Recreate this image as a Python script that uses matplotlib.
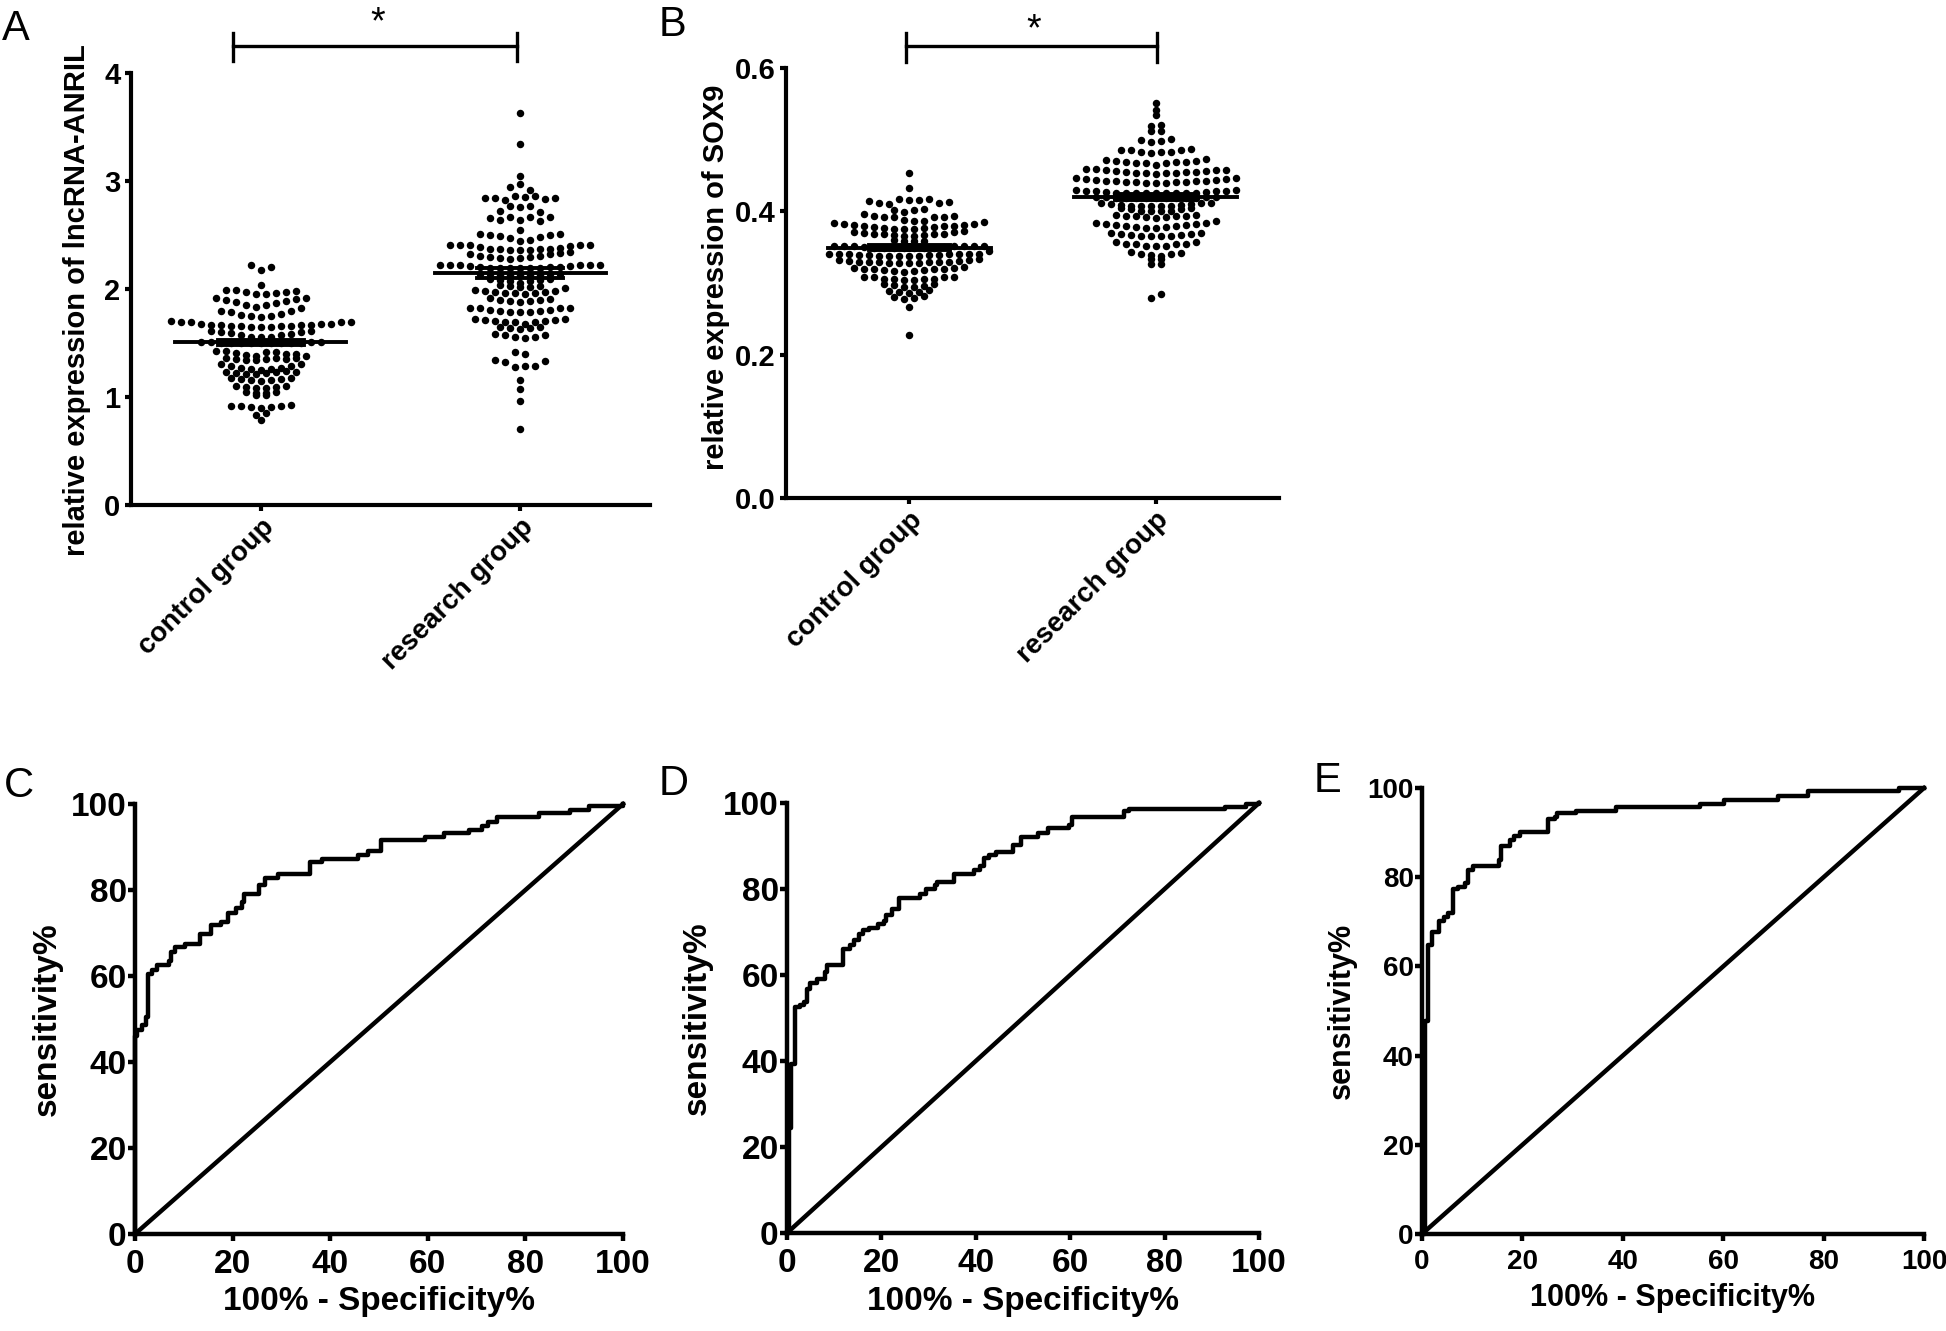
import matplotlib
matplotlib.use('Agg')
import matplotlib.pyplot as plt
import numpy as np

plt.rcParams['font.family'] = ['Liberation Sans', 'DejaVu Sans']

groups = ['control group', 'research group']

# panel A: lncRNA-ANRIL, one inner list per visual row of dots (left to right)
anril_control_rows = [
    [2.22, 2.18, 2.20],
    [2.04],
    [1.99, 1.99, 1.97, 1.95, 1.95, 1.96, 1.97, 1.98],
    [1.92, 1.90, 1.88, 1.85, 1.83, 1.85, 1.87, 1.89, 1.91, 1.92],
    [1.80, 1.79, 1.76, 1.75, 1.74, 1.75, 1.77, 1.80, 1.82],
    [1.70, 1.69, 1.69, 1.68, 1.67, 1.67, 1.66, 1.66, 1.65, 1.65,
     1.65, 1.66, 1.66, 1.67, 1.67, 1.68, 1.68, 1.69, 1.69],
    [1.61, 1.60, 1.59, 1.57, 1.56, 1.56, 1.56, 1.57, 1.58, 1.60, 1.61],
    [1.51, 1.51, 1.50, 1.50, 1.50, 1.50, 1.50, 1.50, 1.50, 1.50, 1.50, 1.51, 1.51],
    [1.43, 1.43, 1.41, 1.39, 1.38, 1.42, 1.42, 1.40, 1.40, 1.38],
    [1.36, 1.35, 1.34, 1.34, 1.35, 1.36, 1.35, 1.36],
    [1.31, 1.29, 1.27, 1.26, 1.25, 1.26, 1.27, 1.29, 1.31],
    [1.23, 1.22, 1.21, 1.21, 1.22, 1.23, 1.24, 1.23],
    [1.18, 1.17, 1.16, 1.15, 1.16, 1.17, 1.18],
    [1.10, 1.09, 1.08, 1.08, 1.09, 1.10],
    [1.05, 1.04, 1.04, 1.05],
    [1.02, 1.02],
    [0.92, 0.92, 0.91, 0.90, 0.91, 0.92, 0.93],
    [0.83, 0.85],
    [0.79],
]
anril_research_rows = [
    [3.63],
    [3.34],
    [3.05],
    [2.94, 2.97, 2.92],
    [2.84, 2.84, 2.82, 2.86, 2.85, 2.86, 2.83, 2.84],
    [2.72, 2.77, 2.76, 2.77, 2.71],
    [2.66, 2.64, 2.67, 2.64, 2.67, 2.63, 2.67],
    [2.55],
    [2.51, 2.50, 2.49, 2.47, 2.44, 2.45, 2.48, 2.50, 2.51],
    [2.41, 2.41, 2.41, 2.39, 2.37, 2.37, 2.36, 2.36, 2.36, 2.37, 2.37, 2.38, 2.40, 2.41, 2.41],
    [2.32, 2.31, 2.30, 2.29, 2.28, 2.29, 2.30, 2.31, 2.32, 2.33, 2.34],
    [2.22, 2.22, 2.22, 2.21, 2.20, 2.19, 2.19, 2.19, 2.19, 2.19, 2.19, 2.20, 2.20,
     2.21, 2.22, 2.22, 2.22],
    [2.14, 2.14, 2.13, 2.13, 2.13, 2.13, 2.13, 2.14, 2.14],
    [2.09, 2.08, 2.07, 2.06, 2.07, 2.08, 2.09],
    [2.04, 2.03, 2.02, 2.02, 2.03],
    [1.99, 1.98, 1.97, 1.96, 1.96, 1.95, 1.96, 1.97, 1.98, 2.01],
    [1.92, 1.90, 1.89, 1.88, 1.89, 1.90, 1.91],
    [1.82, 1.82, 1.81, 1.80, 1.79, 1.79, 1.79, 1.80, 1.81, 1.82, 1.82],
    [1.72, 1.71, 1.70, 1.69, 1.69, 1.68, 1.69, 1.70, 1.71, 1.72],
    [1.65, 1.64, 1.63, 1.64, 1.65],
    [1.58, 1.57, 1.56, 1.55, 1.56, 1.57],
    [1.42, 1.40],
    [1.34, 1.32, 1.28, 1.29, 1.29, 1.33],
    [1.16],
    [1.07],
    [0.96],
    [0.70],
]
anril_mean = [1.506, 2.145]
anril_sem = [0.025, 0.045]

# panel B: SOX9
sox9_control_rows = [
    [0.454],
    [0.433],
    [0.414, 0.412, 0.410, 0.417, 0.416, 0.416, 0.417, 0.412, 0.413],
    [0.402, 0.399, 0.402, 0.403],
    [0.396, 0.394, 0.392, 0.392, 0.388, 0.386, 0.387, 0.392, 0.392, 0.394],
    [0.384, 0.383, 0.381, 0.380, 0.378, 0.377, 0.376, 0.376, 0.376, 0.377,
     0.378, 0.379, 0.380, 0.381, 0.382, 0.385],
    [0.371, 0.370, 0.369, 0.368, 0.367, 0.366, 0.366, 0.367, 0.368, 0.369, 0.371, 0.372],
    [0.360, 0.359, 0.358, 0.358],
    [0.352, 0.352, 0.351, 0.350, 0.349, 0.349, 0.349, 0.349, 0.349, 0.349,
     0.349, 0.350, 0.351, 0.352, 0.352, 0.352],
    [0.341, 0.340, 0.340, 0.339, 0.339, 0.338, 0.338, 0.338, 0.338, 0.338,
     0.339, 0.339, 0.340, 0.340, 0.341, 0.341, 0.344],
    [0.332, 0.331, 0.330, 0.329, 0.329, 0.328, 0.328, 0.328, 0.328, 0.329,
     0.329, 0.330, 0.331, 0.332, 0.333],
    [0.321, 0.320, 0.319, 0.318, 0.317, 0.316, 0.317, 0.318, 0.319, 0.320, 0.321, 0.322],
    [0.309, 0.308, 0.306, 0.305, 0.304, 0.304, 0.305, 0.306, 0.308, 0.309],
    [0.299, 0.297, 0.295, 0.295, 0.296, 0.298],
    [0.289, 0.287, 0.286, 0.287, 0.290],
    [0.281, 0.278, 0.279, 0.282],
    [0.267],
    [0.227],
]
sox9_research_rows = [
    [0.551],
    [0.542],
    [0.534],
    [0.519, 0.520],
    [0.512, 0.512],
    [0.500, 0.497, 0.498, 0.501],
    [0.486, 0.485, 0.483, 0.481, 0.483, 0.483, 0.485, 0.487],
    [0.472, 0.470, 0.469, 0.468, 0.467, 0.465, 0.467, 0.469, 0.469, 0.470, 0.473],
    [0.459, 0.459, 0.457, 0.456, 0.455, 0.454, 0.454, 0.452, 0.453, 0.454,
     0.455, 0.455, 0.456, 0.457, 0.458],
    [0.446, 0.445, 0.444, 0.443, 0.442, 0.441, 0.441, 0.440, 0.440, 0.440,
     0.441, 0.441, 0.442, 0.443, 0.444, 0.445, 0.446],
    [0.430, 0.429, 0.428, 0.427, 0.426, 0.426, 0.425, 0.425, 0.425, 0.425,
     0.425, 0.426, 0.426, 0.427, 0.428, 0.429, 0.430],
    [0.420, 0.420, 0.419, 0.419, 0.419, 0.419, 0.419, 0.419, 0.419, 0.419,
     0.419, 0.420, 0.420],
    [0.411, 0.410, 0.409, 0.408, 0.407, 0.407, 0.407, 0.408, 0.409, 0.410, 0.411, 0.412],
    [0.404, 0.403, 0.401, 0.400, 0.400, 0.401, 0.403, 0.404],
    [0.395, 0.394, 0.393, 0.392, 0.391, 0.392, 0.393, 0.394, 0.395],
    [0.384, 0.383, 0.381, 0.379, 0.378, 0.377, 0.377, 0.378, 0.379, 0.381,
     0.383, 0.384, 0.386],
    [0.370, 0.369, 0.367, 0.366, 0.365, 0.365, 0.366, 0.367, 0.369, 0.370],
    [0.357, 0.355, 0.354, 0.352, 0.351, 0.352, 0.354, 0.355, 0.357],
    [0.343, 0.341, 0.339, 0.338, 0.340, 0.342],
    [0.334, 0.333],
    [0.327, 0.327],
    [0.279, 0.284],
]
sox9_mean = [0.349, 0.420]
sox9_sem = [0.0035, 0.004]

# ROC curves (100% - specificity, sensitivity), step corners
roc_c_fpr = [0, 0, 0.5, 1.5, 2.2, 2.6, 3.5, 4.5, 6.9, 7.3, 8.2, 10.3, 13.4, 15.5, 17.7,
             19.0, 20.7, 22.0, 22.4, 25.4, 26.7, 29.3, 35.8, 38.4, 45.7, 47.8, 50.4,
             59.5, 63.4, 68.5, 71.1, 72.4, 74.1, 82.8, 89.2, 93.0, 100]
roc_c_tpr = [0, 46.0, 47.5, 48.5, 50.5, 60.5, 61.5, 62.5, 63.5, 65.5, 66.7, 67.5, 69.7,
             71.9, 72.6, 74.6, 75.9, 77.2, 79.0, 81.1, 82.9, 83.8, 86.4, 87.3, 88.2,
             89.0, 91.7, 92.3, 93.2, 93.9, 94.9, 95.9, 96.9, 97.8, 98.7, 99.6, 100]

roc_d_fpr = [0, 0.4, 0.9, 1.8, 2.7, 3.6, 4.3, 4.9, 6.3, 8.0, 8.5, 11.8, 13.4, 14.3, 15.2,
             16.1, 17.4, 19.2, 20.5, 21.0, 22.3, 23.7, 28.1, 29.5, 31.3, 31.7, 35.3,
             39.7, 40.9, 41.8, 42.9, 44.2, 47.8, 49.6, 53.1, 55.4, 59.8, 60.3, 71.4,
             72.5, 92.9, 97.3, 100]
roc_d_tpr = [0, 24.4, 39.3, 52.5, 53.0, 53.8, 56.8, 58.2, 59.0, 60.8, 62.3, 66.0, 66.9,
             68.2, 69.6, 70.4, 70.9, 71.8, 72.6, 74.0, 75.3, 77.9, 78.8, 80.1, 81.0,
             81.6, 83.6, 84.5, 85.4, 87.1, 88.0, 88.6, 90.2, 92.1, 93.0, 94.1, 95.0,
             96.8, 98.1, 98.5, 99.1, 99.8, 100]

roc_e_fpr = [0, 0.5, 1.1, 1.9, 3.4, 4.4, 5.2, 6.1, 7.2, 8.5, 9.1, 10.1, 15.4, 15.8, 17.5,
             18.3, 19.5, 25.0, 26.5, 26.9, 30.6, 38.7, 55.3, 60.2, 70.9, 76.8, 95.1, 100]
roc_e_tpr = [0, 47.8, 64.7, 67.7, 70.2, 71.1, 71.9, 77.4, 77.8, 78.7, 81.6, 82.5, 83.8,
             87.1, 88.4, 89.3, 90.1, 93.1, 93.5, 94.3, 94.8, 95.8, 96.4, 97.3, 98.1,
             99.4, 100, 100]

chance = [0, 100]

W, H = 1946, 1331
fig = plt.figure(figsize=(W / 100, H / 100), dpi=100)


def add_axes_px(left, top, right, bottom):
    return fig.add_axes([left / W, 1 - bottom / H, (right - left) / W, (bottom - top) / H])


def clean_spines(ax, lw):
    for side in ('top', 'right'):
        ax.spines[side].set_visible(False)
    for side in ('left', 'bottom'):
        ax.spines[side].set_linewidth(lw)


def dot_plot(ax, rows_by_group, means, sems, spacing_px=10.0):
    x0, x1 = ax.get_xlim()
    step = spacing_px * (x1 - x0) / (ax.get_position().width * W)
    for gi, rows in enumerate(rows_by_group):
        xs, ys = [], []
        for row in rows:
            n = len(row)
            for i, v in enumerate(row):
                xs.append(gi + (i - (n - 1) / 2) * step)
                ys.append(v)
        ax.scatter(xs, ys, s=29, color='black', linewidths=0, zorder=3, clip_on=False)
        m, e = means[gi], sems[gi]
        ax.plot([gi - 0.33, gi + 0.33], [m, m], color='black', lw=2.8, zorder=4)
        for v in (m - e, m + e):
            ax.plot([gi - 0.165, gi + 0.165], [v, v], color='black', lw=2.8, zorder=4)
        ax.plot([gi, gi], [m - e, m + e], color='black', lw=2.8, zorder=4)


def dot_panel(ax, rows_by_group, means, sems, yticks, ylabels, ylabel, label_xy):
    ax.set_xlim(-0.5, 1.5)
    ax.set_ylim(yticks[0], yticks[-1])
    clean_spines(ax, 3.0)
    dot_plot(ax, rows_by_group, means, sems)
    ax.set_yticks(yticks)
    ax.set_yticklabels(ylabels, fontsize=21, fontweight='bold')
    ax.set_xticks([0, 1])
    ax.set_xticklabels(groups, fontsize=20, fontweight='bold', rotation=45, ha='right',
                       rotation_mode='anchor')
    ax.tick_params(axis='both', width=3.0, length=4.5)
    ax.tick_params(axis='y', pad=3)
    ax.tick_params(axis='x', pad=2)
    ax.text(label_xy[0], label_xy[1], ylabel, transform=ax.transAxes, rotation=90,
            ha='center', va='center', fontsize=21, fontweight='bold')


def bracket(ax, x_left, x_right, y, y_lo, y_hi, star_xy):
    kw = dict(color='black', lw=2.4, clip_on=False)
    ax.plot([x_left, x_right], [y, y], **kw)
    ax.plot([x_left, x_left], [y_lo, y_hi], **kw)
    ax.plot([x_right, x_right], [y_lo, y_hi], **kw)
    ax.text(star_xy[0], star_xy[1], '*', ha='center', va='center', fontsize=27)


def roc_panel(ax, fpr, tpr, tick_size, label_size, ylab_x, xlab_y):
    ax.set_xlim(0, 100)
    ax.set_ylim(0, 100)
    clean_spines(ax, 3.2)
    ax.step(fpr, tpr, where='post', color='black', lw=3.2, clip_on=False)
    ax.plot(chance, chance, color='black', lw=3.2, clip_on=False)
    ticks = [0, 20, 40, 60, 80, 100]
    ax.set_xticks(ticks)
    ax.set_yticks(ticks)
    ax.set_xticklabels([str(t) for t in ticks], fontsize=tick_size, fontweight='bold')
    ax.set_yticklabels([str(t) for t in ticks], fontsize=tick_size, fontweight='bold')
    ax.tick_params(axis='both', width=3.2, length=5)
    ax.tick_params(axis='x', pad=6)
    ax.tick_params(axis='y', pad=1)
    ax.text(ylab_x, 0.5, 'sensitivity%', transform=ax.transAxes, rotation=90,
            ha='center', va='center', fontsize=label_size, fontweight='bold')
    ax.text(0.5, xlab_y, '100% - Specificity%', transform=ax.transAxes,
            ha='center', va='center', fontsize=label_size, fontweight='bold')


# panel A
ax_a = add_axes_px(131, 73, 650, 505)
dot_panel(ax_a, [anril_control_rows, anril_research_rows], anril_mean, anril_sem,
          [0, 1, 2, 3, 4], ['0', '1', '2', '3', '4'],
          'relative expression of lncRNA-ANRIL', (-0.105, 0.475))
bracket(ax_a, -0.108, 0.988, 4.25, 4.11, 4.37, (0.45, 4.46))

# panel B
ax_b = add_axes_px(786, 68, 1279, 498)
dot_panel(ax_b, [sox9_control_rows, sox9_research_rows], sox9_mean, sox9_sem,
          [0.0, 0.2, 0.4, 0.6], ['0.0', '0.2', '0.4', '0.6'],
          'relative expression of SOX9', (-0.143, 0.514))
bracket(ax_b, -0.014, 1.004, 0.630, 0.609, 0.649, (0.506, 0.652))

# ROC panels
ax_c = add_axes_px(135, 804, 623, 1234)
roc_panel(ax_c, roc_c_fpr, roc_c_tpr, 24, 24, -0.18, -0.157)
ax_d = add_axes_px(787, 803, 1259, 1233)
roc_panel(ax_d, roc_d_fpr, roc_d_tpr, 24, 24, -0.19, -0.159)
ax_e = add_axes_px(1422, 788, 1924, 1234)
roc_panel(ax_e, roc_e_fpr, roc_e_tpr, 20, 22, -0.16, -0.143)

# panel letters
for letter, x, top in [('A', 2, 9), ('B', 659, 5), ('C', 4, 766), ('D', 659, 764),
                       ('E', 1314, 761)]:
    fig.text(x / W, 1 - top / H, letter, fontsize=30, ha='left', va='top')

fig.savefig('out.png', dpi=100, facecolor='white')
